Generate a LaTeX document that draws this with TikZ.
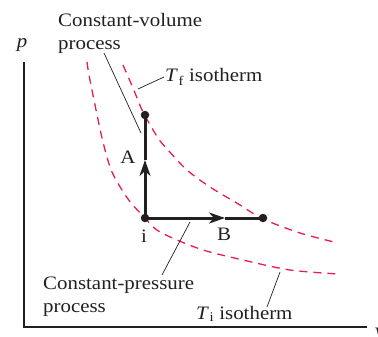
\documentclass[tikz,border=0pt]{standalone}
\usepackage{fontspec}
\setmainfont[FakeStretch=1.1]{Liberation Serif}
\usetikzlibrary{arrows.meta}
\definecolor{isored}{RGB}{232,28,84}
\definecolor{ink}{RGB}{35,31,32}
\begin{document}
\begin{tikzpicture}[x=1pt,y=-1pt,
  lbl/.style={inner sep=0pt,text=ink,font=\fontsize{19}{22}\selectfont},
  iso/.style={draw=isored,line width=1.3pt,dash pattern=on 8pt off 6pt},
  axis/.style={draw=ink,line width=1.3pt},
  proc/.style={draw=ink,line width=3pt},
  leader/.style={draw=ink,line width=0.7pt},
  dot/.style={circle,fill=ink,inner sep=0pt,minimum size=8.5pt},
  tip/.style={-{Stealth[length=16pt,width=11pt,inset=5pt]}}]
\useasboundingbox (0,0) rectangle (378,337);
% axes
\coordinate (ytop) at (24,62);
\coordinate (orig) at (24,327);
\coordinate (xend) at (367,327);
\draw[axis] (ytop) -- (orig) -- (xend);
\node[lbl,anchor=base] (plab) at (22,48) {\textit{p}};
\node[lbl,anchor=base west] (vlab) at (374,340) {\textit{V}};
% isotherms
\draw[iso] plot[smooth] coordinates {(87,62) (89,75) (95,105) (103,142) (112,172) (128,199) (145,218) (160,232) (200,249) (243,260) (290,270) (338,274)};
\draw[iso] plot[smooth] coordinates {(123,65) (133,88) (143,112) (158,138) (168,150) (187,170) (210,187) (240,205) (263,219) (300,233) (338,243)};
% process
\node[dot] (i) at (145,218) {};
\node[dot] (f1) at (145,115) {};
\node[dot] (f2) at (263,218) {};
\coordinate (am) at (145,160);
\coordinate (bm) at (225,218);
\draw[proc,tip] (i.center) -- (am);
\draw[proc] (am) -- (f1.center);
\draw[proc,tip] (i.center) -- (bm);
\draw[proc] (bm) -- (f2.center);
\node[lbl,anchor=base] (alab) at (128,163) {A};
\node[lbl,anchor=base] (ilab) at (144,242) {i};
\node[lbl,anchor=base] (blab) at (224,240) {B};
% labels
\node[lbl,anchor=base west] (cv1) at (58,27) {Constant-volume};
\node[lbl,anchor=base west] (cv2) at (58,50) {process};
\node[lbl,anchor=base west] (tf) at (165,82) {\textit{T}\kern0.5pt\textsubscript{f} isotherm};
\node[lbl,anchor=base west] (cp1) at (43,289) {Constant-pressure};
\node[lbl,anchor=base west] (cp2) at (43,312) {process};
\node[lbl,anchor=base west] (ti) at (196,319) {\textit{T}\kern0.5pt\textsubscript{i} isotherm};
% leaders
\coordinate (cvA) at (104,53);
\coordinate (cvB) at (141,133);
\coordinate (tfA) at (138,89);
\coordinate (tfB) at (164,77);
\coordinate (cpA) at (190,222);
\coordinate (cpB) at (162,275);
\coordinate (tiA) at (280,272);
\coordinate (tiB) at (267,307);
\draw[leader] (cvA) -- (cvB);
\draw[leader] (tfA) -- (tfB);
\draw[leader] (cpA) -- (cpB);
\draw[leader] (tiA) -- (tiB);
\end{tikzpicture}
\end{document}
